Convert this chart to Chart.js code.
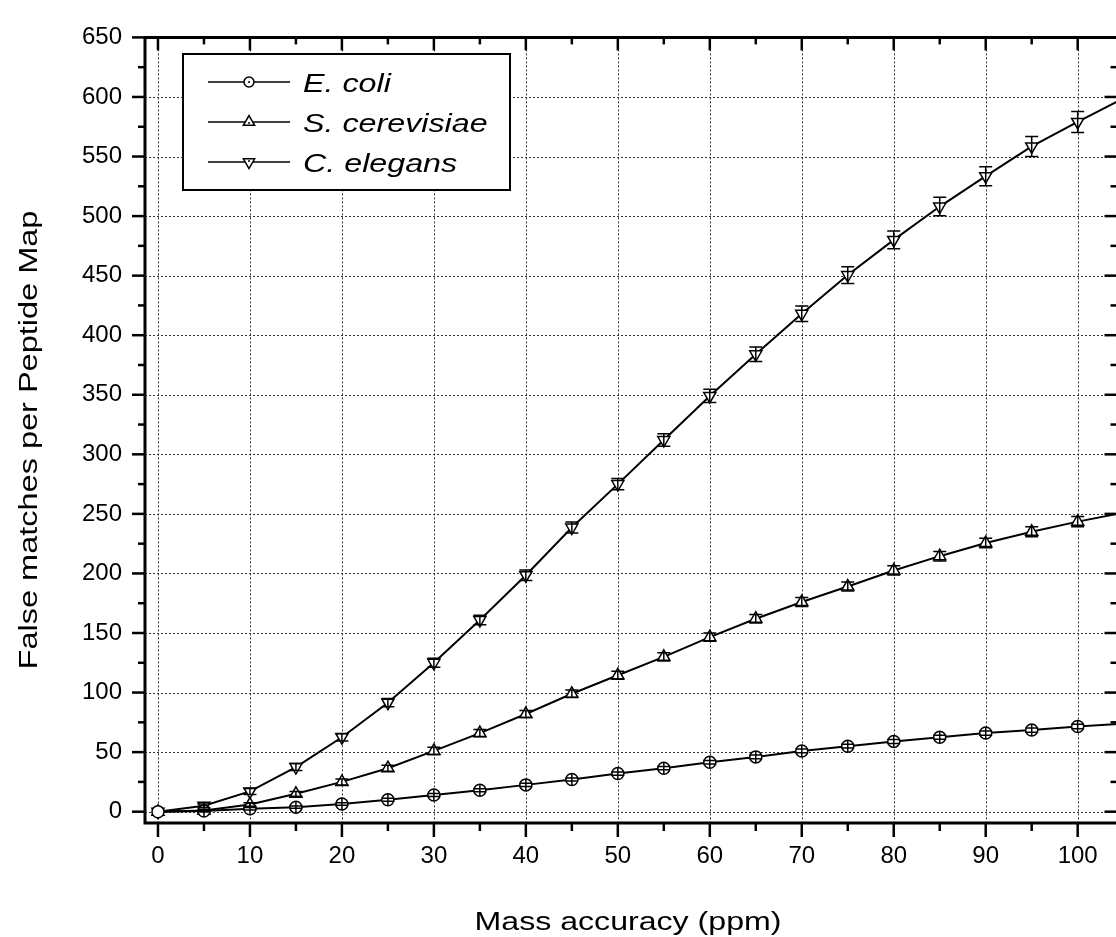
<!DOCTYPE html>
<html>
<head>
<meta charset="utf-8">
<title>False matches per Peptide Map</title>
<script src="https://cdn.jsdelivr.net/npm/chart.js@4.4.1/dist/chart.umd.min.js"></script>
<style>
  html, body { margin: 0; padding: 0; background: #fff; overflow: hidden; }
  #wrap { width: 1116px; height: 937px; overflow: hidden; position: relative; }
  #chart { position: absolute; left: 0; top: 0; }
</style>
</head>
<body>
<div id="wrap"><canvas id="chart" width="1126" height="937"></canvas></div>
<script>
// Mass accuracy (ppm) of every point
const massAccuracy = [0, 5, 10, 15, 20, 25, 30, 35, 40, 45, 50, 55, 60, 65, 70, 75, 80, 85, 90, 95, 100, 105];

// False matches per peptide map, with error bars
const ecoli = [0, 0.5, 2.5, 3.8, 6.5, 10, 14, 18, 22.5, 27, 32, 36.5, 41.5, 46, 51, 55, 59, 62.5, 66, 68.5, 71.5, 74];
const ecoliErr = [0, 0.5, 1, 1, 1, 1.2, 1.2, 1.2, 1.3, 1.3, 1.4, 1.4, 1.5, 1.5, 1.6, 1.6, 1.7, 1.7, 1.8, 1.8, 1.9, 2];
const yeast = [0, 1, 6, 15, 25, 36.5, 51, 66, 82, 99, 114.5, 130, 146.5, 162, 176, 189, 202.5, 214.5, 225.5, 235, 243.5, 251];
const yeastErr = [0, 1, 1.5, 2, 2.5, 2.5, 3, 3, 3, 3.2, 3.3, 3.4, 3.5, 3.6, 3.7, 3.8, 3.9, 4, 4, 4.2, 4.3, 4.5];
const worm = [0, 5, 17, 37.5, 62.5, 91.5, 125, 161, 198.5, 238.5, 275, 312, 349, 384, 418, 450.5, 480, 508, 533.5, 558.5, 579, 599];
const wormErr = [0, 1.5, 2.5, 3, 3.2, 3.5, 3.8, 4, 4.4, 4.6, 4.8, 5.2, 5.6, 6, 6.6, 7, 7.4, 7.8, 8, 8.4, 8.8, 9];

const seriesNames = ['E. coli', 'S. cerevisiae', 'C. elegans'];
const xTicks = [0, 10, 20, 30, 40, 50, 60, 70, 80, 90, 100];
const yTicks = [0, 50, 100, 150, 200, 250, 300, 350, 400, 450, 500, 550, 600, 650];
const xTitle = 'Mass accuracy (ppm)';
const yTitle = 'False matches per Peptide Map';

const FONT = "'Liberation Sans', Arial, Helvetica, sans-serif";

function toPoints(values) {
    return massAccuracy.map((x, i) => ({ x: x, y: values[i] }));
}

function makeSeries(label, values, errors, style, rotation, radius) {
    return {
        label: label,
        data: toPoints(values),
        errors: errors,
        borderColor: '#000',
        borderWidth: 2,
        tension: 0,
        pointStyle: style,
        pointRotation: rotation,
        pointRadius: radius,
        pointBackgroundColor: '#fff',
        pointBorderColor: '#000',
        pointBorderWidth: 1.5
    };
}

function strokeLine(ctx, x1, y1, x2, y2) {
    ctx.beginPath();
    ctx.moveTo(x1, y1);
    ctx.lineTo(x2, y2);
    ctx.stroke();
}

// text in a wide face: horizontally stretched glyphs
function wideText(ctx, text, x, y, stretch, angle) {
    ctx.save();
    ctx.translate(x, y);
    if (angle) ctx.rotate(angle);
    ctx.scale(stretch, 1);
    ctx.fillText(text, 0, 0);
    ctx.restore();
}

// Grid, error bars, frame with ticks, legend box and axis titles
const plotFrame = {
    id: 'plotFrame',
    beforeDatasetsDraw(chart) {
        const { ctx, chartArea: a, scales: { x, y } } = chart;
        ctx.save();
        ctx.beginPath();
        ctx.rect(a.left, a.top, a.right - a.left, a.bottom - a.top);
        ctx.clip();
        ctx.strokeStyle = '#333';
        ctx.lineWidth = 1;
        ctx.setLineDash([2, 2]);
        xTicks.forEach(v => {
            const px = Math.round(x.getPixelForValue(v)) + 0.5;
            strokeLine(ctx, px, a.top, px, a.bottom);
        });
        yTicks.forEach(v => {
            const py = Math.round(y.getPixelForValue(v)) + 0.5;
            strokeLine(ctx, a.left, py, a.right, py);
        });
        ctx.restore();
    },
    afterDatasetsDraw(chart) {
        const { ctx, chartArea: a, scales: { x, y } } = chart;

        // error bars
        ctx.save();
        ctx.beginPath();
        ctx.rect(a.left, a.top, a.right - a.left, a.bottom - a.top);
        ctx.clip();
        ctx.strokeStyle = '#000';
        ctx.lineWidth = 1.5;
        chart.data.datasets.forEach(ds => {
            ds.data.forEach((p, i) => {
                const err = ds.errors[i];
                if (!err) return;
                const px = x.getPixelForValue(p.x);
                const hi = y.getPixelForValue(p.y + err);
                const lo = y.getPixelForValue(p.y - err);
                if (ds.pointStyle === 'circle') {
                    strokeLine(ctx, px, y.getPixelForValue(p.y) - 6, px, y.getPixelForValue(p.y) + 6);
                } else {
                    strokeLine(ctx, px, hi, px, lo);
                }
                strokeLine(ctx, px - 6.5, hi, px + 6.5, hi);
                strokeLine(ctx, px - 6.5, lo, px + 6.5, lo);
            });
        });
        ctx.restore();

        // frame
        ctx.save();
        ctx.strokeStyle = '#000';
        ctx.lineWidth = 3;
        ctx.beginPath();
        ctx.moveTo(a.right, a.top);
        ctx.lineTo(a.left, a.top);
        ctx.lineTo(a.left, a.bottom);
        ctx.lineTo(a.right, a.bottom);
        ctx.lineTo(a.right, a.top);
        ctx.stroke();

        // major and minor ticks: outward on left/bottom, inward on top/right
        ctx.lineWidth = 2.5;
        const xStep = xTicks[1] - xTicks[0];
        const yStep = yTicks[1] - yTicks[0];
        xTicks.forEach(v => {
            const px = x.getPixelForValue(v);
            strokeLine(ctx, px, a.bottom, px, a.bottom + 14);
            strokeLine(ctx, px, a.top, px, a.top + 13);
            const m = x.getPixelForValue(v + xStep / 2);
            if (m < a.right) {
                strokeLine(ctx, m, a.bottom, m, a.bottom + 8);
                strokeLine(ctx, m, a.top, m, a.top + 7);
            }
        });
        yTicks.forEach(v => {
            const py = y.getPixelForValue(v);
            strokeLine(ctx, a.left - 13, py, a.left, py);
            strokeLine(ctx, a.right - 13, py, a.right, py);
            const m = y.getPixelForValue(v + yStep / 2);
            if (m > a.top) {
                strokeLine(ctx, a.left - 7, m, a.left, m);
                strokeLine(ctx, a.right - 7, m, a.right, m);
            }
        });
        ctx.restore();

        // legend
        ctx.save();
        ctx.fillStyle = '#fff';
        ctx.fillRect(183, 54, 327, 136);
        ctx.strokeStyle = '#000';
        ctx.lineWidth = 2;
        ctx.strokeRect(183, 54, 327, 136);
        chart.data.datasets.forEach((ds, i) => {
            const cy = 82 + i * 40;
            ctx.strokeStyle = '#000';
            ctx.lineWidth = 1.5;
            strokeLine(ctx, 208, cy, 290, cy);
            ctx.fillStyle = '#fff';
            Chart.helpers.drawPoint(ctx, {
                pointStyle: ds.pointStyle,
                rotation: ds.pointRotation,
                radius: ds.pointStyle === 'circle' ? 5 : 6.5,
                borderWidth: 1.5
            }, 249, cy);
            ctx.fillStyle = '#000';
            ctx.beginPath();
            ctx.arc(249, cy + (ds.pointStyle === 'circle' ? 0 : (ds.pointRotation ? -1 : 1)), 1, 0, Math.PI * 2);
            ctx.fill();
            ctx.font = 'italic 26px ' + FONT;
            ctx.textAlign = 'left';
            ctx.textBaseline = 'alphabetic';
            wideText(ctx, seriesNames[i], 303, cy + 10, 1.24, 0);
        });
        ctx.restore();

        // axis titles
        ctx.save();
        ctx.fillStyle = '#000';
        ctx.font = '26px ' + FONT;
        ctx.textAlign = 'center';
        ctx.textBaseline = 'alphabetic';
        wideText(ctx, xTitle, 628, 930, 1.235, 0);
        wideText(ctx, yTitle, 37, 440, 1.25, -Math.PI / 2);
        ctx.restore();
    }
};

new Chart(document.getElementById('chart'), {
    type: 'line',
    data: {
        datasets: [
            makeSeries(seriesNames[0], ecoli, ecoliErr, 'circle', 0, 6),
            makeSeries(seriesNames[1], yeast, yeastErr, 'triangle', 0, 7),
            makeSeries(seriesNames[2], worm, wormErr, 'triangle', 180, 7)
        ]
    },
    options: {
        responsive: false,
        animation: false,
        events: [],
        layout: { padding: { top: 27, right: 5, left: 0, bottom: 0 } },
        plugins: {
            legend: { display: false },
            tooltip: { enabled: false }
        },
        scales: {
            x: {
                type: 'linear',
                min: -1.41,
                max: 104.33,
                grid: { display: false, drawTicks: false },
                border: { display: false },
                afterBuildTicks: s => { s.ticks = xTicks.map(v => ({ value: v })); },
                afterFit: s => { s.height = 114; },
                ticks: {
                    autoSkip: false,
                    maxRotation: 0,
                    padding: 19,
                    color: '#000',
                    font: { family: FONT, size: 24 }
                }
            },
            y: {
                type: 'linear',
                min: -9.5,
                max: 650,
                grid: { display: false, drawTicks: false },
                border: { display: false },
                afterBuildTicks: s => { s.ticks = yTicks.map(v => ({ value: v })); },
                afterFit: s => { s.width = 145; },
                ticks: {
                    autoSkip: false,
                    padding: 23,
                    color: '#000',
                    font: { family: FONT, size: 24 }
                }
            }
        }
    },
    plugins: [plotFrame]
});
</script>
</body>
</html>
